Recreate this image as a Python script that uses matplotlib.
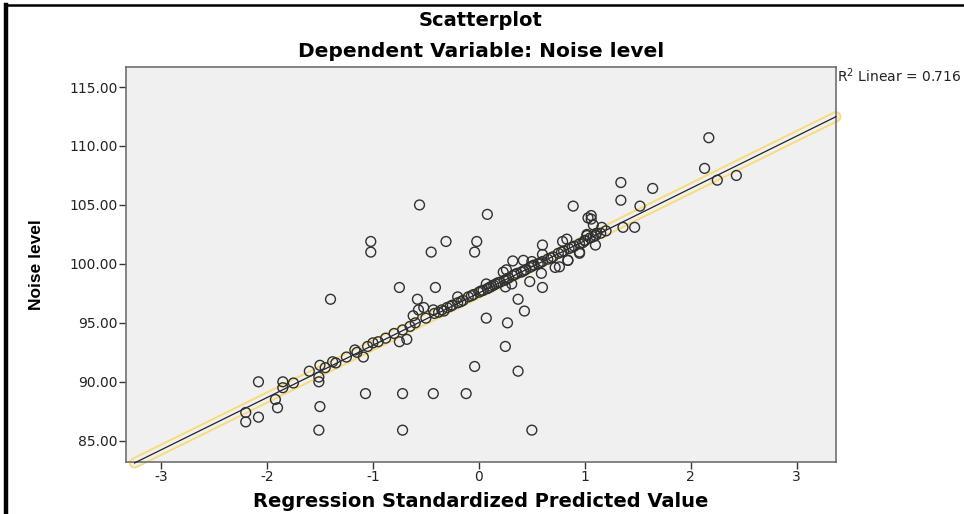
import numpy as np
import matplotlib
matplotlib.use('Agg')
import matplotlib.pyplot as plt
from matplotlib.lines import Line2D

plt.rcParams['font.family'] = ['DejaVu Sans']

# standardized predicted value (x) and observed noise level (y), read off the chart
# off-line cases
x_out = [-2.08, -1.85, -1.75, -1.92, -1.90, -2.20, -2.08, -2.20, -1.60, -1.50,
         -1.51, -1.51, -1.50, -1.51, -1.40, -1.38, -0.56, -1.02, -1.02, -0.31,
         -0.45, -0.02, -0.04, -0.75, -0.41, -0.58, -0.57, -0.52, -0.62, -0.43,
         -0.68, -0.75, -1.09, -1.17, -0.04, -1.07, -0.72, -0.43, -0.12, -0.72,
         0.08, 0.89, 0.07, 0.07, 0.27, 0.37, 0.43, 0.25, 0.37, 0.50,
         0.32, 0.42, 0.50, 0.23, 0.26, 0.31, 0.25, 0.48, 0.59, 0.60,
         0.60, 0.72, 0.84, 0.83, 0.79, 0.95, 1.02, 1.03, 2.17, 2.13,
         2.43, 1.34, 1.64, 1.34, 1.52, 1.06, 1.06, 1.08, 1.47, 1.36,
         1.16, 1.11, 1.02, 1.00, 1.10, 0.95, 0.84, 0.76, 0.60, -0.20]
y_out = [90.0, 90.0, 89.9, 88.5, 87.8, 87.4, 87.0, 86.6, 90.9, 91.4,
         90.4, 90.0, 87.9, 85.9, 97.0, 91.7, 105.0, 101.9, 101.0, 101.9,
         101.0, 101.9, 101.0, 98.0, 98.0, 97.0, 96.1, 96.3, 95.6, 96.1,
         93.6, 93.4, 92.1, 92.7, 91.3, 89.0, 89.0, 89.0, 89.0, 85.9,
         104.2, 104.9, 98.3, 95.4, 95.0, 97.0, 96.0, 93.0, 90.9, 85.9,
         100.25, 100.3, 100.2, 99.3, 99.5, 98.3, 98.05, 98.5, 99.2, 101.6,
         100.8, 99.7, 100.3, 102.1, 101.9, 101.0, 102.4, 103.9, 110.7, 108.1,
         107.5, 106.9, 106.4, 105.4, 104.9, 104.1, 103.8, 103.3, 103.1, 103.1,
         103.1, 102.6, 102.5, 102.0, 101.6, 100.9, 100.3, 99.75, 98.0, 97.2]

# cases sitting on (or very near) the fit line
x_line = [-1.85, -1.45, -1.35, -1.25, -1.15, -1.05, -0.95, -0.88, -0.80, -0.72,
          -0.65, -0.50, -0.42, -0.38, -0.35, -0.30, -0.27, -0.25, -0.20, -0.17,
          -0.15, -0.10, -0.07, -0.05, 0.00, 0.02, 0.04, 0.08, 0.10, 0.12,
          0.16, 0.18, 0.20, 0.24, 0.26, 0.28, 0.32, 0.34, 0.36, 0.40,
          0.42, 0.44, 0.48, 0.50, 0.52, 0.56, 0.58, 0.60, 0.65, 0.68,
          0.70, 0.75, 0.78, 0.80, 0.85, 0.88, 0.90, 0.95, 0.98, 1.00,
          1.05, 1.08, 1.10, 1.15, 1.20, 2.25, -1.00, -0.60, -0.33, 0.14]
y_line = [89.5, 91.2, 91.6, 92.1, 92.5, 93.0, 93.4, 93.7, 94.1, 94.4,
          94.7, 95.4, 95.8, 95.9, 96.1, 96.3, 96.4, 96.5, 96.7, 96.8,
          96.9, 97.2, 97.3, 97.4, 97.6, 97.7, 97.75, 97.9, 98.0, 98.1,
          98.3, 98.4, 98.45, 98.6, 98.7, 98.8, 99.0, 99.1, 99.2, 99.3,
          99.4, 99.5, 99.7, 99.8, 99.9, 100.0, 100.1, 100.2, 100.4, 100.5,
          100.6, 100.9, 101.0, 101.1, 101.3, 101.4, 101.5, 101.7, 101.8, 101.95,
          102.2, 102.3, 102.4, 102.6, 102.8, 107.1, 93.3, 95.0, 96.0, 98.2]

x_ticks = [-3, -2, -1, 0, 1, 2, 3]
y_ticks = [85, 90, 95, 100, 105, 110, 115]
r2_label = '0.716'

x = np.array(x_out + x_line)
y = np.array(y_out + y_line)
slope, intercept = np.polyfit(x, y, 1)

fig = plt.figure(figsize=(9.64, 5.14), dpi=100)
ax = fig.add_axes([0.1307, 0.1012, 0.7365, 0.7685])
ax.set_facecolor('#f0f0f0')

# fit line with the yellow highlight outline
xf = np.array([-3.25, 3.37])
yf = slope * xf + intercept
ax.plot(xf, yf, color='#f8dc7a', lw=8.0, solid_capstyle='round', zorder=2, clip_on=False)
ax.plot(xf, yf, color='#f0f0f0', lw=5.2, solid_capstyle='round', zorder=2, clip_on=False)
ax.plot(xf, yf, color='#222222', lw=0.9, zorder=3, clip_on=False)

ax.scatter(x, y, s=50, facecolors='none', edgecolors='#303030', linewidths=1.0, zorder=4)

ax.set_xlim(-3.33, 3.37)
ax.set_ylim(83.2, 116.7)
ax.set_xticks(x_ticks)
ax.set_xticklabels([str(t) for t in x_ticks])
ax.set_yticks(y_ticks)
ax.set_yticklabels([f'{t:.2f}' for t in y_ticks])
ax.tick_params(direction='out', length=5, width=1.0, color='#333333',
               labelsize=10, labelcolor='#222222', pad=1)
for s in ax.spines.values():
    s.set_color('#707070')
    s.set_linewidth(1.2)

ax.set_xlabel('Regression Standardized Predicted Value', fontsize=14,
              fontweight='bold')
ax.xaxis.set_label_coords(0.5, -0.075)
ax.set_ylabel('Noise level', fontsize=12.5, fontweight='bold',
              family=['Liberation Sans Narrow', 'Liberation Sans'])
ax.yaxis.set_label_coords(-0.115, 0.5)

fig.text(0.499, 0.961, 'Scatterplot', ha='center', va='center',
         fontsize=14, fontweight='bold')
fig.text(0.499, 0.899, 'Dependent Variable: Noise level', ha='center', va='center',
         fontsize=14.5, fontweight='bold')
fig.text(0.868, 0.853, 'R$^2$ Linear = ' + r2_label, ha='left', va='center',
         fontsize=10, color='#222222')

# black frame along the left and top edges
fig.add_artist(Line2D([0.0065, 0.0065], [0.0, 0.99], color='black', lw=3.2,
                      transform=fig.transFigure))
fig.add_artist(Line2D([0.0065, 1.0], [0.99, 0.99], color='black', lw=1.8,
                      transform=fig.transFigure))

fig.savefig('out.png', dpi=100)
